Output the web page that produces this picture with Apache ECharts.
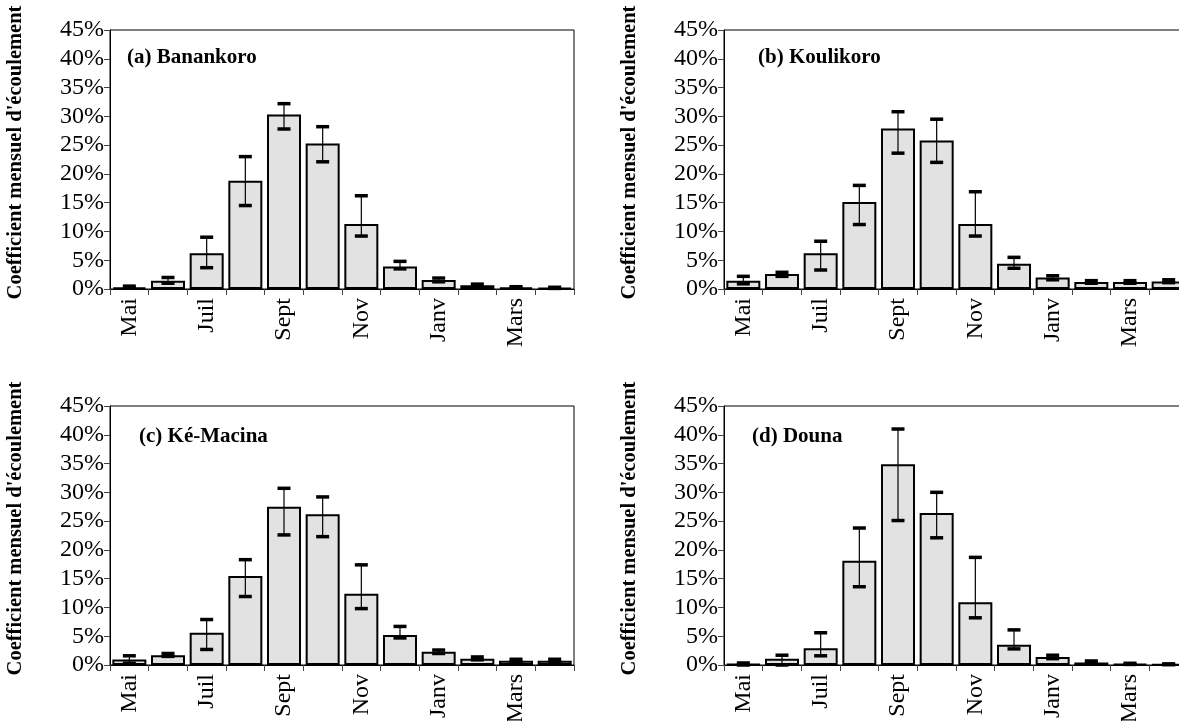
<!DOCTYPE html>
<html>
<head>
<meta charset="utf-8">
<script src="https://cdn.jsdelivr.net/npm/echarts@6/dist/echarts.min.js"></script>
<style>
  html, body { margin: 0; padding: 0; background: #fff; }
  #chart { width: 1179px; height: 721px; }
</style>
</head>
<body>
<div id="chart"></div>
<script>
// mois, de mai à avril
var months = ['Mai', 'Juin', 'Juil', 'Août', 'Sept', 'Oct', 'Nov', 'Déc', 'Janv', 'Févr', 'Mars', 'Avr'];
var yTicks = [0, 5, 10, 15, 20, 25, 30, 35, 40, 45];
var stations = ['(a) Banankoro', '(b) Koulikoro', '(c) Ké-Macina', '(d) Douna'];

// coefficients mensuels (%) + bornes des barres d'erreur
var banankoro     = [0.3, 1.45, 6.2, 18.8, 30.3, 25.3, 11.3, 3.9, 1.55, 0.65, 0.3, 0.2];
var banankoroHigh = [0.5, 2.0, 9.0, 23.0, 32.2, 28.2, 16.2, 4.8, 1.9, 0.85, 0.4, 0.3];
var banankoroLow  = [0.15, 1.0, 3.7, 14.5, 27.8, 22.1, 9.2, 3.5, 1.25, 0.45, 0.2, 0.1];

var koulikoro     = [1.45, 2.6, 6.2, 15.1, 27.9, 25.8, 11.3, 4.4, 2.0, 1.2, 1.2, 1.3];
var koulikoroHigh = [2.2, 2.9, 8.3, 18.0, 30.8, 29.5, 16.9, 5.5, 2.3, 1.45, 1.45, 1.6];
var koulikoroLow  = [0.9, 2.2, 3.3, 11.2, 23.6, 22.0, 9.2, 3.6, 1.6, 1.0, 1.0, 1.1];

var keMacina     = [0.95, 1.7, 5.6, 15.45, 27.5, 26.2, 12.4, 5.2, 2.3, 1.1, 0.75, 0.75];
var keMacinaHigh = [1.6, 2.0, 7.9, 18.3, 30.7, 29.2, 17.4, 6.7, 2.6, 1.4, 1.0, 1.0];
var keMacinaLow  = [0.3, 1.5, 2.7, 11.9, 22.6, 22.3, 9.8, 4.7, 2.0, 0.9, 0.6, 0.6];

var douna     = [0.15, 1.1, 2.9, 18.1, 34.9, 26.4, 10.9, 3.5, 1.4, 0.45, 0.2, 0.1];
var dounaHigh = [0.35, 1.7, 5.6, 23.8, 41.0, 30.0, 18.7, 6.1, 1.7, 0.7, 0.3, 0.2];
var dounaLow  = [0.0, 0.0, 1.6, 13.6, 25.1, 22.1, 8.2, 2.8, 1.1, 0.3, 0.1, 0.05];

var values = [banankoro, koulikoro, keMacina, douna];
var highs = [banankoroHigh, koulikoroHigh, keMacinaHigh, dounaHigh];
var lows = [banankoroLow, koulikoroLow, keMacinaLow, dounaLow];

var font = '"Liberation Serif", "Times New Roman", serif';
var grids = [
  { left: 110, top: 30, width: 464, height: 259 },
  { left: 724, top: 30, width: 464, height: 259 },
  { left: 110, top: 406, width: 464, height: 259 },
  { left: 724, top: 406, width: 464, height: 259 }
];
var titlePos = [[127, 47], [758, 47], [139, 426], [752, 426]];

var chart = echarts.init(document.getElementById('chart'));

function errorBar(params, api) {
  var x = api.value(0);
  var lo = api.coord([x, api.value(1)]);
  var hi = api.coord([x, api.value(2)]);
  var cw = 13, ch = 3.5;
  return {
    type: 'group',
    children: [
      { type: 'line', shape: { x1: lo[0], y1: lo[1], x2: hi[0], y2: hi[1] },
        style: { stroke: '#000', lineWidth: 1.2 } },
      { type: 'rect', shape: { x: lo[0] - cw / 2, y: lo[1] - ch / 2, width: cw, height: ch },
        style: { fill: '#000' } },
      { type: 'rect', shape: { x: hi[0] - cw / 2, y: hi[1] - ch / 2, width: cw, height: ch },
        style: { fill: '#000' } }
    ]
  };
}

var option = {
  backgroundColor: '#fff',
  animation: false,
  title: [], grid: [], xAxis: [], yAxis: [], series: []
};

for (var i = 0; i < 4; i++) {
  option.grid.push(Object.assign({
    show: true, borderColor: '#000', borderWidth: 1,
    containLabel: false, outerBoundsMode: 'none'
  }, grids[i]));
  option.title.push({
    text: stations[i], left: titlePos[i][0], top: titlePos[i][1], padding: 0,
    textStyle: { fontFamily: font, fontWeight: 'bold', fontSize: 21, color: '#000' }
  });
  option.xAxis.push({
    type: 'category', gridIndex: i, data: months,
    axisLine: { lineStyle: { color: '#000', width: 1 } },
    axisTick: { show: true, interval: 0, length: 6, lineStyle: { color: '#444' } },
    axisLabel: { interval: 1, rotate: 90, margin: 9, fontFamily: font, fontSize: 24, color: '#000' },
    splitLine: { show: false }
  });
  option.yAxis.push({
    type: 'value', gridIndex: i, min: 0, max: 45, interval: 5,
    name: "Coefficient mensuel d'écoulement",
    nameLocation: 'middle', nameRotate: 90, nameGap: 84,
    nameTextStyle: { fontFamily: font, fontWeight: 'bold', fontSize: 20.5, color: '#000', padding: [0, 0, 0, 14] },
    axisLine: { show: true, lineStyle: { color: '#000', width: 1 } },
    axisTick: { show: true, length: 6, lineStyle: { color: '#444' } },
    axisLabel: {
      margin: 6, fontFamily: font, fontSize: 24, color: '#000',
      formatter: function (v) { return yTicks.indexOf(v) >= 0 ? v + '%' : ''; }
    },
    splitLine: { show: false }
  });
  option.series.push({
    type: 'bar', xAxisIndex: i, yAxisIndex: i, barWidth: 34,
    data: values[i],
    itemStyle: { color: '#e2e2e2', borderColor: '#000', borderWidth: 2 }
  });
  option.series.push({
    type: 'custom', xAxisIndex: i, yAxisIndex: i, z: 3,
    renderItem: errorBar,
    data: months.map(function (m, k) { return [k, lows[i][k], highs[i][k]]; })
  });
}

chart.setOption(option);
</script>
</body>
</html>
